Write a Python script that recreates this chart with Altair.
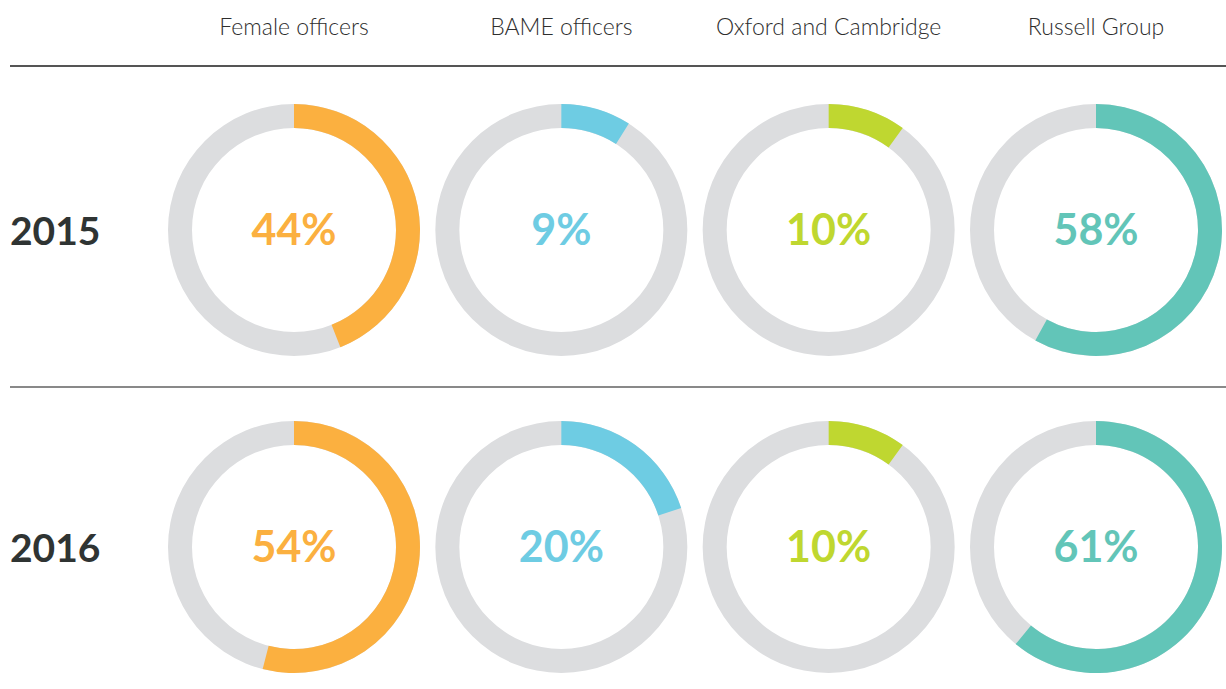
import altair as alt
import pandas as pd

categories = ["Female officers", "BAME officers", "Oxford and Cambridge", "Russell Group"]
years = ["2015", "2016"]
values_2015 = [44, 9, 10, 58]
values_2016 = [54, 20, 10, 61]
colors = ["#FBB040", "#6ECCE3", "#BFD730", "#62C5B8"]
ring_grey = "#DCDDDF"

rows = []
for year, vals in zip(years, [values_2015, values_2016]):
    for cat, v in zip(categories, vals):
        rows.append({"category": cat, "year": year, "pct": v, "start": 0, "full": 100,
                     "label": f"{v}%"})
df = pd.DataFrame(rows)
head_df = pd.DataFrame({"category": categories})
year_df = pd.DataFrame({"year": years})

FONT = "Lato"
xs = alt.Scale(domain=categories, range=[294, 1096], padding=0)
ys = alt.Scale(domain=years, range=[230, 547], padding=0)
theta_scale = alt.Scale(domain=[0, 100])
color_scale = alt.Scale(domain=categories, range=colors)

X = alt.X("category:N", scale=xs, axis=None)
Y = alt.Y("year:N", scale=ys, axis=None)

bg = alt.Chart(df).mark_arc(radius=126, radius2=102, color=ring_grey).encode(
    x=X, y=Y,
    theta=alt.Theta("start:Q", scale=theta_scale, stack=None),
    theta2="full:Q",
)
fg = alt.Chart(df).mark_arc(radius=126, radius2=102).encode(
    x=X, y=Y,
    theta=alt.Theta("start:Q", scale=theta_scale, stack=None),
    theta2="pct:Q",
    color=alt.Color("category:N", scale=color_scale, legend=None),
)
pct_text = alt.Chart(df).mark_text(font=FONT, fontSize=43, fontWeight="bold",
                                   baseline="middle", align="center", dy=2).encode(
    x=X, y=Y, text="label:N",
    color=alt.Color("category:N", scale=color_scale, legend=None),
)
headers = alt.Chart(head_df).mark_text(font=FONT, fontSize=23, fontWeight=300,
                                       color="#2e2e2e", baseline="middle").encode(
    x=X, y=alt.value(28), text="category:N",
)
row_labels = alt.Chart(year_df).mark_text(font=FONT, fontSize=39, fontWeight="bold",
                                          color="#2f3433", align="left",
                                          baseline="middle", dy=3).encode(
    x=alt.value(10), y=Y, text="year:N",
)
line1 = alt.Chart(head_df).mark_rule(color="#555555", strokeWidth=1.5).encode(
    x=alt.value(10), x2=alt.value(1226), y=alt.value(66)
)
line2 = alt.Chart(head_df).mark_rule(color="#888888", strokeWidth=1.5).encode(
    x=alt.value(10), x2=alt.value(1226), y=alt.value(387)
)

chart = alt.layer(line1, line2, bg, fg, pct_text, headers, row_labels).properties(
    width=1226, height=689, autosize="none", padding=0, background="white"
).configure_view(stroke=None)

chart.save("out.html", embed_options={"renderer": "svg", "actions": False})
